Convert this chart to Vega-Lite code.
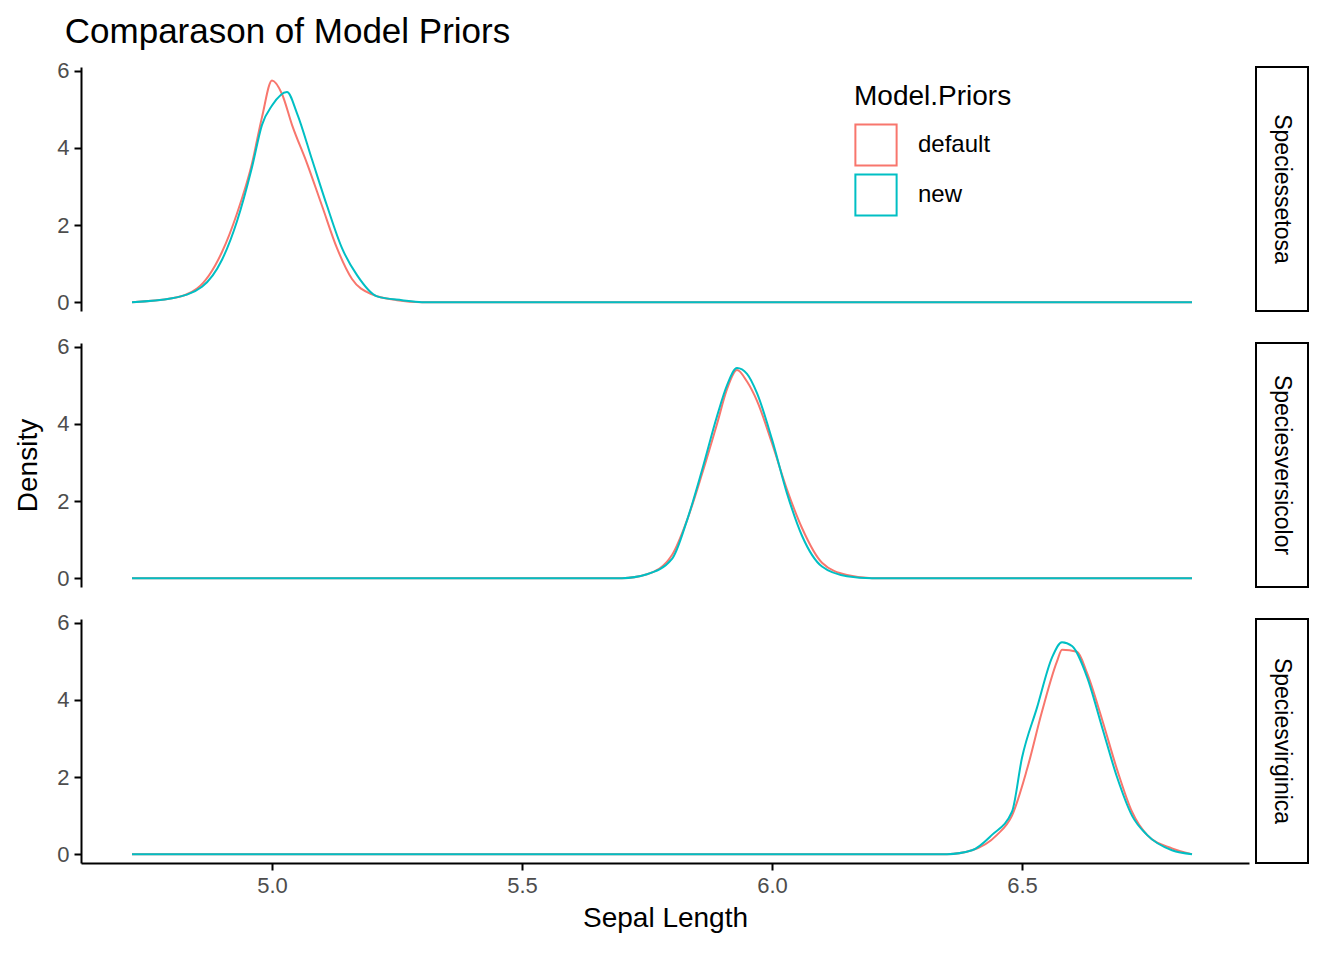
{
  "$schema": "https://vega.github.io/schema/vega-lite/v6.json",
  "padding": {"left": 14, "top": 14, "right": 10, "bottom": 10},
  "background": "white",
  "title": {"text": "Comparason of Model Priors", "anchor": "start", "fontSize": 35, "font": "Liberation Sans", "fontWeight": "normal", "color": "black", "offset": 10, "dx": 50},
  "config": {
    "font": "Liberation Sans",
    "view": {"stroke": null},
    "axis": {"grid": false, "domainColor": "black", "domainWidth": 2, "tickColor": "black", "tickWidth": 2, "tickSize": 7, "labelFontSize": 22, "labelColor": "#4D4D4D", "titleFontSize": 28, "titleFontWeight": "normal", "titleColor": "black", "labelPadding": 5},
    "concat": {"spacing": 21}
  },
  "datasets": {
    "curves": [
      {"species": "setosa", "prior": "default", "x": 4.72, "d": 0},
      {"species": "setosa", "prior": "default", "x": 4.8, "d": 0.1},
      {"species": "setosa", "prior": "default", "x": 4.85, "d": 0.35},
      {"species": "setosa", "prior": "default", "x": 4.9, "d": 1.3},
      {"species": "setosa", "prior": "default", "x": 4.93, "d": 2.3},
      {"species": "setosa", "prior": "default", "x": 4.96, "d": 3.6},
      {"species": "setosa", "prior": "default", "x": 4.98, "d": 4.8},
      {"species": "setosa", "prior": "default", "x": 5.0, "d": 5.75},
      {"species": "setosa", "prior": "default", "x": 5.02, "d": 5.4},
      {"species": "setosa", "prior": "default", "x": 5.04, "d": 4.6},
      {"species": "setosa", "prior": "default", "x": 5.07, "d": 3.6},
      {"species": "setosa", "prior": "default", "x": 5.1, "d": 2.5},
      {"species": "setosa", "prior": "default", "x": 5.13, "d": 1.4},
      {"species": "setosa", "prior": "default", "x": 5.16, "d": 0.6},
      {"species": "setosa", "prior": "default", "x": 5.2, "d": 0.2},
      {"species": "setosa", "prior": "default", "x": 5.25, "d": 0.05},
      {"species": "setosa", "prior": "default", "x": 5.3, "d": 0},
      {"species": "setosa", "prior": "default", "x": 6.84, "d": 0},
      {"species": "setosa", "prior": "new", "x": 4.72, "d": 0},
      {"species": "setosa", "prior": "new", "x": 4.8, "d": 0.1},
      {"species": "setosa", "prior": "new", "x": 4.86, "d": 0.4},
      {"species": "setosa", "prior": "new", "x": 4.9, "d": 1.1},
      {"species": "setosa", "prior": "new", "x": 4.93, "d": 2.1},
      {"species": "setosa", "prior": "new", "x": 4.96, "d": 3.5},
      {"species": "setosa", "prior": "new", "x": 4.98, "d": 4.6},
      {"species": "setosa", "prior": "new", "x": 5.0, "d": 5.1},
      {"species": "setosa", "prior": "new", "x": 5.03, "d": 5.45},
      {"species": "setosa", "prior": "new", "x": 5.05, "d": 4.9},
      {"species": "setosa", "prior": "new", "x": 5.08, "d": 3.7},
      {"species": "setosa", "prior": "new", "x": 5.11, "d": 2.5},
      {"species": "setosa", "prior": "new", "x": 5.14, "d": 1.4},
      {"species": "setosa", "prior": "new", "x": 5.17, "d": 0.7},
      {"species": "setosa", "prior": "new", "x": 5.21, "d": 0.15},
      {"species": "setosa", "prior": "new", "x": 5.26, "d": 0.05},
      {"species": "setosa", "prior": "new", "x": 5.3, "d": 0},
      {"species": "setosa", "prior": "new", "x": 6.84, "d": 0},
      {"species": "versicolor", "prior": "default", "x": 4.72, "d": 0},
      {"species": "versicolor", "prior": "default", "x": 5.7, "d": 0},
      {"species": "versicolor", "prior": "default", "x": 5.75, "d": 0.1},
      {"species": "versicolor", "prior": "default", "x": 5.8, "d": 0.6},
      {"species": "versicolor", "prior": "default", "x": 5.83, "d": 1.5},
      {"species": "versicolor", "prior": "default", "x": 5.86, "d": 2.7},
      {"species": "versicolor", "prior": "default", "x": 5.89, "d": 4.0},
      {"species": "versicolor", "prior": "default", "x": 5.91, "d": 4.9},
      {"species": "versicolor", "prior": "default", "x": 5.93, "d": 5.4},
      {"species": "versicolor", "prior": "default", "x": 5.95, "d": 5.1},
      {"species": "versicolor", "prior": "default", "x": 5.97, "d": 4.6},
      {"species": "versicolor", "prior": "default", "x": 6.0, "d": 3.5},
      {"species": "versicolor", "prior": "default", "x": 6.03, "d": 2.3},
      {"species": "versicolor", "prior": "default", "x": 6.06, "d": 1.3},
      {"species": "versicolor", "prior": "default", "x": 6.1, "d": 0.4},
      {"species": "versicolor", "prior": "default", "x": 6.15, "d": 0.08},
      {"species": "versicolor", "prior": "default", "x": 6.2, "d": 0},
      {"species": "versicolor", "prior": "default", "x": 6.84, "d": 0},
      {"species": "versicolor", "prior": "new", "x": 4.72, "d": 0},
      {"species": "versicolor", "prior": "new", "x": 5.7, "d": 0},
      {"species": "versicolor", "prior": "new", "x": 5.75, "d": 0.1},
      {"species": "versicolor", "prior": "new", "x": 5.8, "d": 0.5},
      {"species": "versicolor", "prior": "new", "x": 5.83, "d": 1.5},
      {"species": "versicolor", "prior": "new", "x": 5.86, "d": 2.8},
      {"species": "versicolor", "prior": "new", "x": 5.89, "d": 4.2},
      {"species": "versicolor", "prior": "new", "x": 5.91, "d": 5.0},
      {"species": "versicolor", "prior": "new", "x": 5.93, "d": 5.45},
      {"species": "versicolor", "prior": "new", "x": 5.95, "d": 5.3},
      {"species": "versicolor", "prior": "new", "x": 5.97, "d": 4.8},
      {"species": "versicolor", "prior": "new", "x": 6.0, "d": 3.6},
      {"species": "versicolor", "prior": "new", "x": 6.03, "d": 2.2},
      {"species": "versicolor", "prior": "new", "x": 6.06, "d": 1.1},
      {"species": "versicolor", "prior": "new", "x": 6.1, "d": 0.3},
      {"species": "versicolor", "prior": "new", "x": 6.15, "d": 0.05},
      {"species": "versicolor", "prior": "new", "x": 6.2, "d": 0},
      {"species": "versicolor", "prior": "new", "x": 6.84, "d": 0},
      {"species": "virginica", "prior": "default", "x": 4.72, "d": 0},
      {"species": "virginica", "prior": "default", "x": 6.35, "d": 0},
      {"species": "virginica", "prior": "default", "x": 6.4, "d": 0.1},
      {"species": "virginica", "prior": "default", "x": 6.45, "d": 0.5},
      {"species": "virginica", "prior": "default", "x": 6.48, "d": 1.0},
      {"species": "virginica", "prior": "default", "x": 6.51, "d": 2.2},
      {"species": "virginica", "prior": "default", "x": 6.54, "d": 3.7},
      {"species": "virginica", "prior": "default", "x": 6.57, "d": 5.0},
      {"species": "virginica", "prior": "default", "x": 6.58, "d": 5.3},
      {"species": "virginica", "prior": "default", "x": 6.61, "d": 5.25},
      {"species": "virginica", "prior": "default", "x": 6.63, "d": 4.7},
      {"species": "virginica", "prior": "default", "x": 6.66, "d": 3.5},
      {"species": "virginica", "prior": "default", "x": 6.69, "d": 2.2},
      {"species": "virginica", "prior": "default", "x": 6.72, "d": 1.1},
      {"species": "virginica", "prior": "default", "x": 6.75, "d": 0.5},
      {"species": "virginica", "prior": "default", "x": 6.8, "d": 0.15},
      {"species": "virginica", "prior": "default", "x": 6.84, "d": 0},
      {"species": "virginica", "prior": "new", "x": 4.72, "d": 0},
      {"species": "virginica", "prior": "new", "x": 6.35, "d": 0},
      {"species": "virginica", "prior": "new", "x": 6.4, "d": 0.1},
      {"species": "virginica", "prior": "new", "x": 6.44, "d": 0.5},
      {"species": "virginica", "prior": "new", "x": 6.48, "d": 1.1},
      {"species": "virginica", "prior": "new", "x": 6.5, "d": 2.5},
      {"species": "virginica", "prior": "new", "x": 6.53, "d": 3.8},
      {"species": "virginica", "prior": "new", "x": 6.56, "d": 5.1},
      {"species": "virginica", "prior": "new", "x": 6.58, "d": 5.5},
      {"species": "virginica", "prior": "new", "x": 6.6, "d": 5.4},
      {"species": "virginica", "prior": "new", "x": 6.63, "d": 4.6},
      {"species": "virginica", "prior": "new", "x": 6.66, "d": 3.3},
      {"species": "virginica", "prior": "new", "x": 6.69, "d": 2.0},
      {"species": "virginica", "prior": "new", "x": 6.72, "d": 1.0},
      {"species": "virginica", "prior": "new", "x": 6.75, "d": 0.5},
      {"species": "virginica", "prior": "new", "x": 6.8, "d": 0.1},
      {"species": "virginica", "prior": "new", "x": 6.84, "d": 0}
    ],
    "strips": [
      {"species": "setosa", "label": "Speciessetosa"},
      {"species": "versicolor", "label": "Speciesversicolor"},
      {"species": "virginica", "label": "Speciesvirginica"}
    ]
  },
  "resolve": {"scale": {"color": "shared"}},
  "vconcat": [
    {
      "hconcat": [
        {
          "width": 1168, "height": 244,
          "data": {"name": "curves"},
          "transform": [{"filter": "datum.species === 'setosa'"}],
          "mark": {"type": "line", "interpolate": "monotone", "strokeWidth": 2},
          "encoding": {
            "x": {"field": "x", "type": "quantitative", "scale": {"domain": [4.618, 6.954], "nice": false, "zero": false}, "axis": null},
            "y": {"field": "d", "type": "quantitative", "scale": {"domain": [-0.23, 6.1], "nice": false, "zero": false}, "axis": {"values": [0, 2, 4, 6], "title": null}},
            "color": {"field": "prior", "type": "nominal", "scale": {"domain": ["default", "new"], "range": ["#F8766D", "#00BFC4"]},
              "legend": {"title": "Model.Priors", "orient": "none", "legendX": 773, "legendY": 16, "titleFontSize": 28, "titleFontWeight": "normal", "titleColor": "black", "labelFontSize": 24, "labelColor": "black", "symbolType": "square", "symbolSize": 1700, "symbolStrokeWidth": 2, "symbolFillColor": "transparent", "rowPadding": 0, "titlePadding": 12, "labelOffset": 20}}
          }
        },
        {
          "width": 52, "height": 244,
          "view": {"stroke": "black", "strokeWidth": 2},
          "data": {"name": "strips"},
          "transform": [{"filter": "datum.species === 'setosa'"}],
          "mark": {"type": "text", "angle": 90, "fontSize": 23, "color": "black"},
          "encoding": {
            "text": {"field": "label"},
            "x": {"datum": 0.5, "type": "quantitative", "scale": {"domain": [0, 1]}, "axis": null},
            "y": {"datum": 0.5, "type": "quantitative", "scale": {"domain": [0, 1]}, "axis": null}
          }
        }
      ],
      "spacing": 6
    },
    {
      "hconcat": [
        {
          "width": 1168, "height": 244,
          "data": {"name": "curves"},
          "transform": [{"filter": "datum.species === 'versicolor'"}],
          "mark": {"type": "line", "interpolate": "monotone", "strokeWidth": 2},
          "encoding": {
            "x": {"field": "x", "type": "quantitative", "scale": {"domain": [4.618, 6.954], "nice": false, "zero": false}, "axis": null},
            "y": {"field": "d", "type": "quantitative", "scale": {"domain": [-0.23, 6.1], "nice": false, "zero": false}, "axis": {"values": [0, 2, 4, 6], "title": "Density", "titlePadding": 14}},
            "color": {"field": "prior", "type": "nominal"}
          }
        },
        {
          "width": 52, "height": 244,
          "view": {"stroke": "black", "strokeWidth": 2},
          "data": {"name": "strips"},
          "transform": [{"filter": "datum.species === 'versicolor'"}],
          "mark": {"type": "text", "angle": 90, "fontSize": 23, "color": "black"},
          "encoding": {
            "text": {"field": "label"},
            "x": {"datum": 0.5, "type": "quantitative", "scale": {"domain": [0, 1]}, "axis": null},
            "y": {"datum": 0.5, "type": "quantitative", "scale": {"domain": [0, 1]}, "axis": null}
          }
        }
      ],
      "spacing": 6
    },
    {
      "hconcat": [
        {
          "width": 1168, "height": 244,
          "data": {"name": "curves"},
          "transform": [{"filter": "datum.species === 'virginica'"}],
          "mark": {"type": "line", "interpolate": "monotone", "strokeWidth": 2},
          "encoding": {
            "x": {"field": "x", "type": "quantitative", "scale": {"domain": [4.618, 6.954], "nice": false, "zero": false}, "axis": {"values": [5.0, 5.5, 6.0, 6.5], "format": ".1f", "title": "Sepal Length", "titlePadding": 8}},
            "y": {"field": "d", "type": "quantitative", "scale": {"domain": [-0.23, 6.1], "nice": false, "zero": false}, "axis": {"values": [0, 2, 4, 6], "title": null}},
            "color": {"field": "prior", "type": "nominal"}
          }
        },
        {
          "width": 52, "height": 244,
          "view": {"stroke": "black", "strokeWidth": 2},
          "data": {"name": "strips"},
          "transform": [{"filter": "datum.species === 'virginica'"}],
          "mark": {"type": "text", "angle": 90, "fontSize": 23, "color": "black"},
          "encoding": {
            "text": {"field": "label"},
            "x": {"datum": 0.5, "type": "quantitative", "scale": {"domain": [0, 1]}, "axis": null},
            "y": {"datum": 0.5, "type": "quantitative", "scale": {"domain": [0, 1]}, "axis": null}
          }
        }
      ],
      "spacing": 6
    }
  ]
}
